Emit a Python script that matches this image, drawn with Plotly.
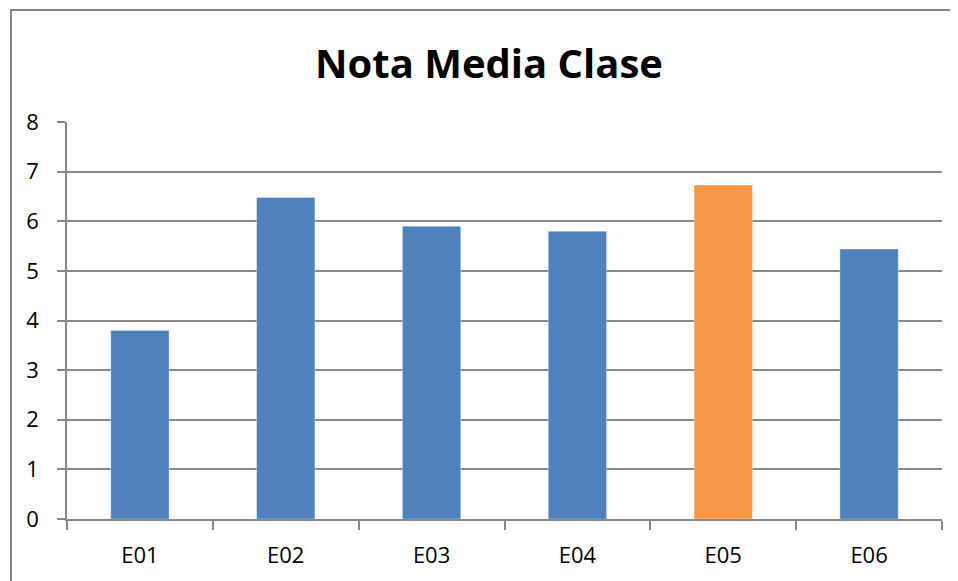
import plotly.graph_objects as go

categories = ["E01", "E02", "E03", "E04", "E05", "E06"]
values = [3.8, 6.48, 5.9, 5.8, 6.73, 5.44]
bar_colors = ["#4F81BD", "#4F81BD", "#4F81BD", "#4F81BD", "#F79646", "#4F81BD"]
y_ticks = [0, 1, 2, 3, 4, 5, 6, 7, 8]

OFF = 8  # default page body margin
W, H = 958 - OFF, 581 - OFF
L, R, T, B = 67 - OFF, 16, 122 - OFF, 62
pw = W - L - R
ph = H - T - B

fig = go.Figure(go.Bar(
    x=categories, y=values,
    marker=dict(color=bar_colors, line=dict(color="rgba(255,255,255,0.35)", width=1)),
    hoverinfo="skip",
))

grid = "#888888"
fig.update_layout(
    width=W, height=H,
    margin=dict(l=L, r=R, t=T, b=B),
    paper_bgcolor="white", plot_bgcolor="white",
    bargap=0.6,
    showlegend=False,
    font=dict(family="Open Sans, Noto Sans, sans-serif", color="#000000", size=21),
    title=dict(
        text="<b>Nota Media Clase</b>",
        x=(489 - OFF) / W, xanchor="center",
        y=1 - (64 - OFF) / H, yanchor="middle",
        font=dict(size=40, family="Open Sans, sans-serif", color="#000000"),
    ),
    xaxis=dict(
        type="category",
        showline=True, linecolor=grid, linewidth=1.5,
        ticks="outside", tickson="boundaries", ticklen=9, tickcolor=grid, tickwidth=1.5,
        showgrid=False, ticklabelstandoff=16,
        tickfont=dict(size=22),
    ),
    yaxis=dict(
        range=[0, 8], tickvals=y_ticks,
        showline=True, linecolor=grid, linewidth=1.5,
        ticks="outside", ticklen=8, tickcolor=grid, tickwidth=1.5,
        showgrid=True, gridcolor=grid, gridwidth=1.5,
        zeroline=False, ticklabelstandoff=14,
        tickfont=dict(size=22),
    ),
    shapes=[dict(
        type="rect", xref="paper", yref="paper",
        x0=(11 - 67) / pw, x1=(958 + 20 - 67) / pw,
        y0=-(100) / ph, y1=(519 - 10) / ph,
        line=dict(color="#868686", width=2), fillcolor="rgba(0,0,0,0)",
        layer="below",
    )],
)

fig.write_html("out.html")
